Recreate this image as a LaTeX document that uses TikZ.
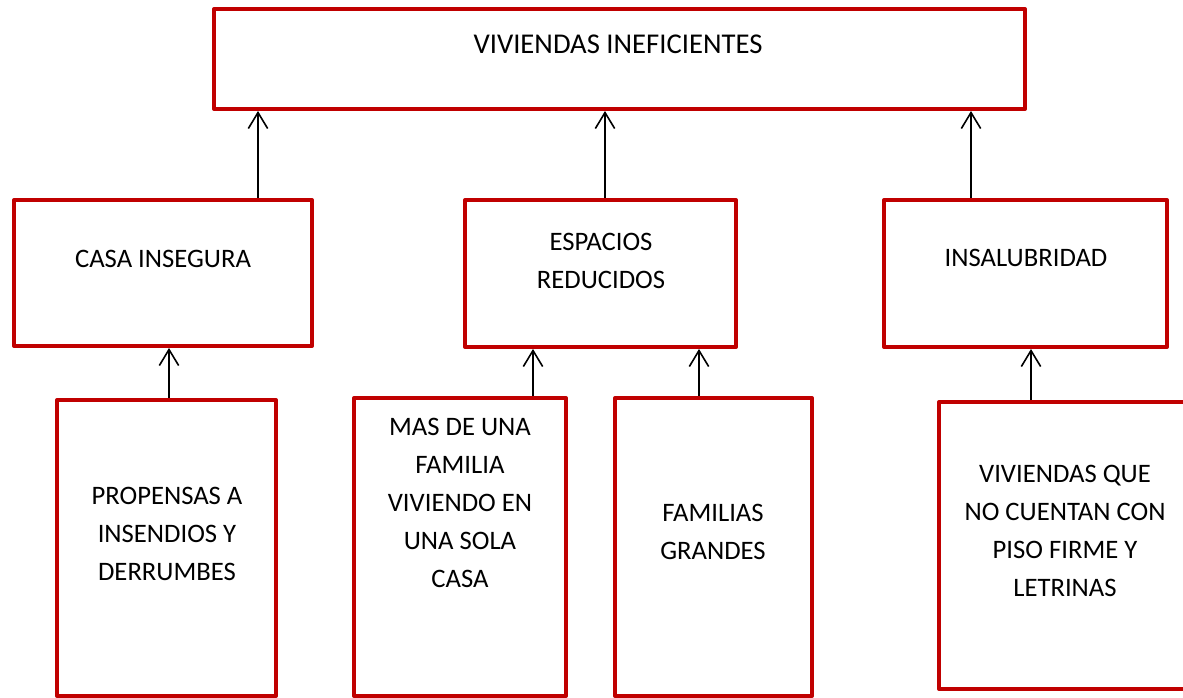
\documentclass[tikz,border=0pt]{standalone}
\usepackage{fontspec}
\setmainfont{Carlito}
\usepackage{tikz}
\usetikzlibrary{arrows.meta,positioning}
\definecolor{rojoborde}{HTML}{C00000}

\begin{document}
\begin{tikzpicture}[
    x=0.75pt, y=-0.75pt,
    caja/.style={rectangle, draw=rojoborde, line width=3pt, line join=round, inner sep=0pt},
    texto/.style={align=center, inner sep=0pt, font=\fontsize{20}{28.5}\selectfont},
    titulo/.style={texto, font=\fontsize{21.5}{28.5}\selectfont},
    flecha/.style={-{Straight Barb[length=12pt, width=14.5pt]}, line width=1.2pt}
]
\useasboundingbox (0,0) rectangle (1183,698);

% cajas
\node[caja, minimum width=608.25pt, minimum height=75pt] (viv) at (619.5,59) {};
\node[caja, minimum width=223.5pt, minimum height=109.5pt] (casa) at (163,273) {};
\node[caja, minimum width=203.25pt, minimum height=110.25pt] (espacios) at (600.5,273.5) {};
\node[caja, minimum width=212.25pt, minimum height=110.25pt] (insal) at (1025.5,273.5) {};
\node[caja, minimum width=164.25pt, minimum height=222pt] (propensas) at (166.5,548) {};
\node[caja, minimum width=159pt, minimum height=223.5pt] (masde) at (460,547) {};
\node[caja, minimum width=147.75pt, minimum height=223.5pt] (familias) at (713.5,547) {};
\node[caja, minimum width=189pt, minimum height=215.25pt] (sinpiso) at (1065,545.5) {};

% textos
\node[titulo] (tviv) at (618,44) {VIVIENDAS INEFICIENTES};
\node[texto] (tcasa) at (163,258.5) {CASA INSEGURA};
\node[texto] (tespacios) at (601,261) {ESPACIOS\\REDUCIDOS};
\node[texto] (tinsal) at (1026,258) {INSALUBRIDAD};
\node[texto] (tpropensas) at (167,533.5) {PROPENSAS A\\INSENDIOS Y\\DERRUMBES};
\node[texto] (tmasde) at (460,503) {MAS DE UNA\\FAMILIA\\VIVIENDO EN\\UNA SOLA\\CASA};
\node[texto] (tfamilias) at (713,531.5) {FAMILIAS\\GRANDES};
\node[texto, text depth=0pt] (tsinpiso) at (1065,531) {VIVIENDAS QUE\\NO CUENTAN CON\\PISO FIRME Y\\LETRINAS};

% flechas
\draw[flecha] (casa.north -| 258,0) -- (viv.south -| 258,0);
\draw[flecha] (espacios.north -| 605,0) -- (viv.south -| 605,0);
\draw[flecha] (insal.north -| 971,0) -- (viv.south -| 971,0);
\draw[flecha] (propensas.north -| 169,0) -- (casa.south -| 169,0);
\draw[flecha] (masde.north -| 533,0) -- (espacios.south -| 533,0);
\draw[flecha] (familias.north -| 699,0) -- (espacios.south -| 699,0);
\draw[flecha] (sinpiso.north -| 1031,0) -- (insal.south -| 1031,0);
\end{tikzpicture}
\end{document}
